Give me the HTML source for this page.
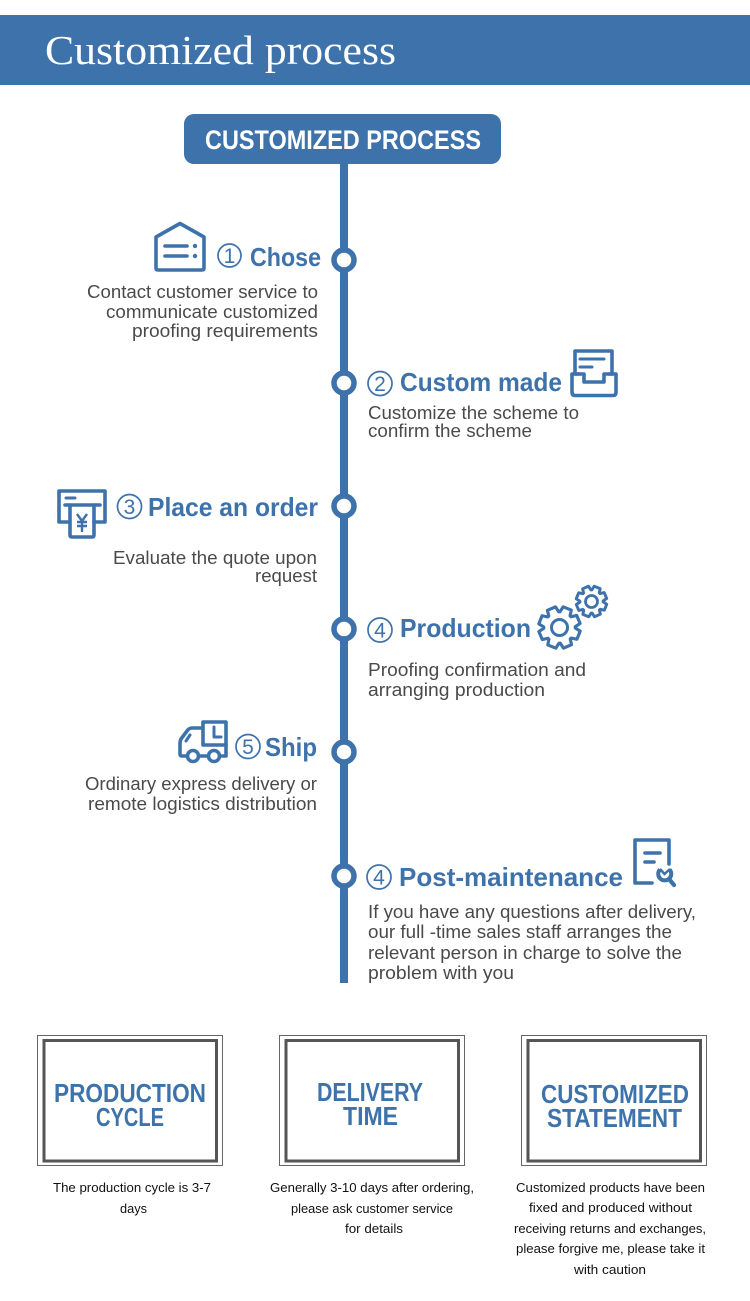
<!DOCTYPE html>
<html>
<head>
<meta charset="utf-8">
<style>
html,body{margin:0;padding:0;background:#fff;width:750px;height:1301px;overflow:hidden}
svg{display:block}
text{font-family:"Liberation Sans","Noto Sans CJK SC",sans-serif}
.h{font-weight:bold;font-size:26px;fill:#3d72ab}
.d{font-size:18px;fill:#4a4a4a}
.c{font-size:13px;fill:#111}
.b{font-weight:bold;font-size:26px;fill:#3d72ab}
.n{font-size:21px;fill:#3d72ab;text-anchor:middle}
.r{fill:none;stroke:#3d72ab;stroke-width:1.7}
.i{fill:none;stroke:#3d72ab;stroke-width:3.6;stroke-linejoin:round;stroke-linecap:round}
.t{fill:#3d72ab}
</style>
</head>
<body>
<svg width="750" height="1301" viewBox="0 0 750 1301" xmlns="http://www.w3.org/2000/svg">
<rect width="750" height="1301" fill="#fff"/>
<rect x="0" y="15" width="750" height="70" fill="#3d72ab"/>
<text x="45" y="64" textLength="351" lengthAdjust="spacingAndGlyphs" style="font-family:'Liberation Serif',serif;font-size:41px" fill="#fff">Customized process</text>

<rect x="184" y="114" width="317" height="50" rx="10" fill="#3d72ab"/>
<text x="205" y="149" textLength="276" lengthAdjust="spacingAndGlyphs" font-size="27" font-weight="bold" fill="#fff">CUSTOMIZED PROCESS</text>

<rect x="340" y="164" width="8" height="819" fill="#3d72ab"/>
<g fill="#fff" stroke="#3d72ab" stroke-width="5.5">
<circle cx="344" cy="260" r="10"/>
<circle cx="344" cy="383" r="10"/>
<circle cx="344" cy="506" r="10"/>
<circle cx="344" cy="629" r="10"/>
<circle cx="344" cy="752" r="10"/>
<circle cx="344" cy="876" r="10"/>
</g>

<!-- Step 1 -->
<path class="i" d="M156 237 L180 223.500 L204 237 L204 268 Q204 270 202 270 L158 270 Q156 270 156 268 Z"/>
<path class="i" d="M165 246 H187 M165 256 H187"/>
<circle class="t" cx="195" cy="246" r="2.200"/><circle class="t" cx="195" cy="256" r="2.200"/>
<circle class="r" cx="229.500" cy="255.500" r="11.500"/>
<text class="n" x="229.500" y="263">1</text>
<text class="b" x="250" y="266" textLength="71" lengthAdjust="spacingAndGlyphs">Chose</text>
<text class="d" x="87" y="298" textLength="231" lengthAdjust="spacingAndGlyphs">Contact customer service to</text>
<text class="d" x="106" y="318" textLength="212" lengthAdjust="spacingAndGlyphs">communicate customized</text>
<text class="d" x="132" y="337" textLength="186" lengthAdjust="spacingAndGlyphs">proofing requirements</text>

<!-- Step 2 -->
<path class="i" d="M575 373 V351 H612 V373"/>
<path class="i" d="M580 359 H604 M580 367 H592" style="stroke-width:3"/>
<path class="i" d="M579 374 H572 V392 Q572 395.500 575 395.500 H613 Q616 395.500 616 392 V374 H609"/>
<path class="i" d="M584 374 V382 H604 V374 M575 374 H584 M604 374 H612"/>
<circle class="r" cx="380" cy="383.500" r="12"/>
<text class="n" x="380" y="391">2</text>
<text class="b" x="400" y="391" textLength="162" lengthAdjust="spacingAndGlyphs">Custom made</text>
<text class="d" x="368" y="419" textLength="211" lengthAdjust="spacingAndGlyphs">Customize the scheme to</text>
<text class="d" x="368" y="437" textLength="164" lengthAdjust="spacingAndGlyphs">confirm the scheme</text>

<!-- Step 3 -->
<path class="i" d="M69 522 H59 V491 H105 V522 H94"/>
<path class="i" d="M65 505 H100"/>
<path class="i" d="M66 498 H75" style="stroke-width:3"/>
<path class="i" d="M70 505 V535 Q70 537 72 537 H92 Q94 537 94 535 V505"/>
<path d="M77 514 L82 521 L87 514 M77 522 H87 M77 526 H87 M82 521 V532" fill="none" stroke="#3d72ab" stroke-width="2.4"/>
<circle class="r" cx="129.500" cy="506.500" r="12"/>
<text class="n" x="129.500" y="514">3</text>
<text class="b" x="148" y="516" textLength="170" lengthAdjust="spacingAndGlyphs">Place an order</text>
<text class="d" x="113" y="564" textLength="204" lengthAdjust="spacingAndGlyphs">Evaluate the quote upon</text>
<text class="d" x="255" y="582" textLength="62" lengthAdjust="spacingAndGlyphs">request</text>

<!-- Step 4 -->
<defs>
<polygon id="gear" points=".705,-.257 .978,-.208 .978,.208 .705,.257 .680,.317 .839,.545 .545,.839 .317,.680 .257,.705 .208,.978 -.208,.978 -.257,.705 -.317,.680 -.545,.839 -.839,.545 -.680,.317 -.705,.257 -.978,.208 -.978,-.208 -.705,-.257 -.680,-.317 -.839,-.545 -.545,-.839 -.317,-.680 -.257,-.705 -.208,-.978 .208,-.978 .257,-.705 .317,-.680 .545,-.839 .839,-.545 .680,-.317"/>
</defs>
<g transform="translate(559.500 627.500) rotate(22) scale(21)" fill="none" stroke="#3d72ab" stroke-width=".15" stroke-linejoin="round"><use href="#gear"/></g>
<circle cx="559.500" cy="627.500" r="8" fill="none" stroke="#3d72ab" stroke-width="3"/>
<g transform="translate(591.500 601.500) rotate(22) scale(15.500)" fill="none" stroke="#3d72ab" stroke-width=".19" stroke-linejoin="round"><use href="#gear"/></g>
<circle cx="591.500" cy="601.500" r="6" fill="none" stroke="#3d72ab" stroke-width="2.800"/>
<circle class="r" cx="380" cy="630" r="12"/>
<text class="n" x="380" y="637.500">4</text>
<text class="b" x="400" y="637" textLength="131" lengthAdjust="spacingAndGlyphs">Production</text>
<text class="d" x="368" y="676" textLength="218" lengthAdjust="spacingAndGlyphs">Proofing confirmation and</text>
<text class="d" x="368" y="696" textLength="177" lengthAdjust="spacingAndGlyphs">arranging production</text>

<!-- Step 5 -->
<path class="i" d="M203 722 H226 V745 H203 Z"/>
<path class="i" d="M214 727 V737 H221" style="stroke-width:3"/>
<path class="i" d="M202 728 H192 Q189 728 187 731 L181 739 Q180 741 180 743 V754 Q180 756 182 756 H187"/>
<path class="i" d="M199 756 H208 M220 756 H226 V745"/>
<path class="i" d="M186 741 L190 735" style="stroke-width:3"/>
<circle class="i" cx="193" cy="756" r="5.500"/>
<circle class="i" cx="214" cy="756" r="5.500"/>
<circle class="r" cx="248" cy="746.500" r="12"/>
<text class="n" x="248" y="754">5</text>
<text class="b" x="265" y="756" textLength="52" lengthAdjust="spacingAndGlyphs">Ship</text>
<text class="d" x="85" y="790" textLength="232" lengthAdjust="spacingAndGlyphs">Ordinary express delivery or</text>
<text class="d" x="88" y="810" textLength="229" lengthAdjust="spacingAndGlyphs">remote logistics distribution</text>

<!-- Step 6 -->
<path class="i" d="M652 883 H635 V840 H669 V864"/>
<path class="i" d="M645 853 H660 M645 862 H654"/>
<path d="M669.500 869.500 A6.500 6.500 0 1 1 660 869.500" fill="none" stroke="#3d72ab" stroke-width="4"/>
<path d="M660 869 L664.500 874 L670 869" fill="none" stroke="#3d72ab" stroke-width="2.500"/>
<path d="M669 879 L674 885" fill="none" stroke="#3d72ab" stroke-width="4.200" stroke-linecap="round"/>
<circle class="r" cx="379" cy="877" r="12"/>
<text class="n" x="379" y="884.500">4</text>
<text class="b" x="399" y="886" textLength="224" lengthAdjust="spacingAndGlyphs">Post-maintenance</text>
<text class="d" x="368" y="918" textLength="328" lengthAdjust="spacingAndGlyphs">If you have any questions after delivery,</text>
<text class="d" x="368" y="938" textLength="304" lengthAdjust="spacingAndGlyphs">our full -time sales staff arranges the</text>
<text class="d" x="368" y="959" textLength="314" lengthAdjust="spacingAndGlyphs">relevant person in charge to solve the</text>
<text class="d" x="368" y="979" textLength="146" lengthAdjust="spacingAndGlyphs">problem with you</text>

<!-- Boxes -->
<g fill="none" stroke="#666" stroke-width="1">
<rect x="37.500" y="1035.500" width="185" height="130"/>
<rect x="279.500" y="1035.500" width="185" height="130"/>
<rect x="521.500" y="1035.500" width="185" height="130"/>
</g>
<g fill="none" stroke="#555" stroke-width="3">
<rect x="44" y="1040.500" width="172.500" height="120.500"/>
<rect x="286" y="1040.500" width="172.500" height="120.500"/>
<rect x="528" y="1040.500" width="172.500" height="120.500"/>
</g>
<text class="h" x="54" y="1102" textLength="152" lengthAdjust="spacingAndGlyphs">PRODUCTION</text>
<text class="h" x="96" y="1126" textLength="68" lengthAdjust="spacingAndGlyphs">CYCLE</text>
<text class="h" x="317" y="1101" textLength="106" lengthAdjust="spacingAndGlyphs">DELIVERY</text>
<text class="h" x="343" y="1125" textLength="55" lengthAdjust="spacingAndGlyphs">TIME</text>
<text class="h" x="541" y="1103" textLength="148" lengthAdjust="spacingAndGlyphs">CUSTOMIZED</text>
<text class="h" x="547" y="1127" textLength="135" lengthAdjust="spacingAndGlyphs">STATEMENT</text>

<text class="c" x="53" y="1192" textLength="158" lengthAdjust="spacingAndGlyphs">The production cycle is 3-7</text>
<text class="c" x="120" y="1213" textLength="27" lengthAdjust="spacingAndGlyphs">days</text>
<text class="c" x="270" y="1192" textLength="204" lengthAdjust="spacingAndGlyphs">Generally 3-10 days after ordering,</text>
<text class="c" x="291" y="1213" textLength="162" lengthAdjust="spacingAndGlyphs">please ask customer service</text>
<text class="c" x="345" y="1233" textLength="58" lengthAdjust="spacingAndGlyphs">for details</text>
<text class="c" x="516" y="1192" textLength="189" lengthAdjust="spacingAndGlyphs">Customized products have been</text>
<text class="c" x="529" y="1212" textLength="163" lengthAdjust="spacingAndGlyphs">fixed and produced without</text>
<text class="c" x="514" y="1233" textLength="192" lengthAdjust="spacingAndGlyphs">receiving returns and exchanges,</text>
<text class="c" x="516" y="1253" textLength="189" lengthAdjust="spacingAndGlyphs">please forgive me, please take it</text>
<text class="c" x="574" y="1274" textLength="72" lengthAdjust="spacingAndGlyphs">with caution</text>
</svg>
</body>
</html>
